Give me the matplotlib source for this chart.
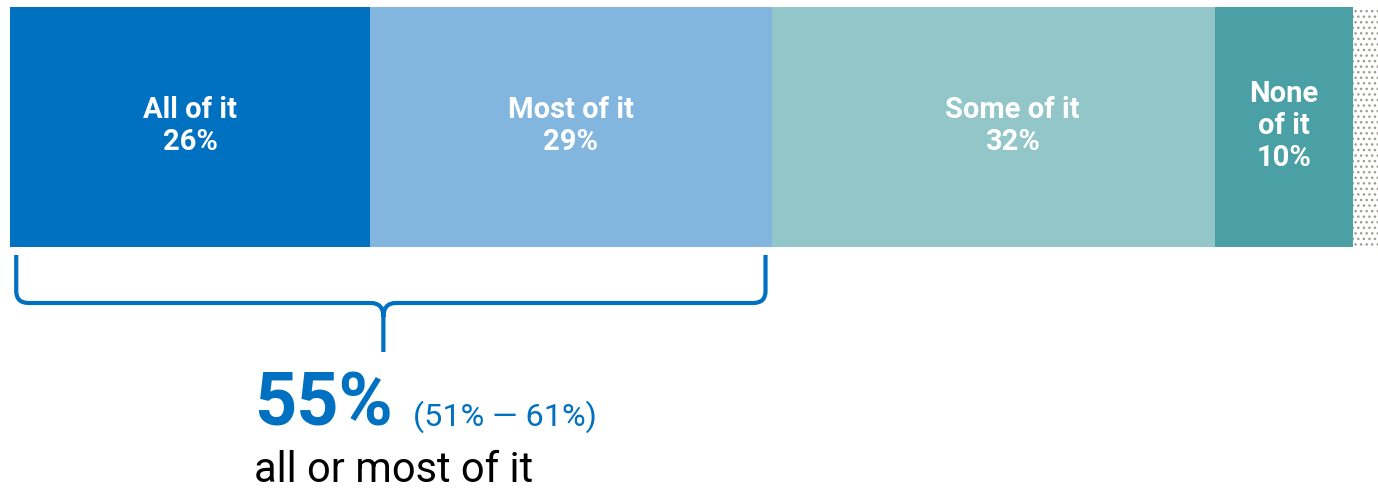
import matplotlib
matplotlib.use("Agg")
import matplotlib.pyplot as plt
from matplotlib.path import Path
from matplotlib.patches import PathPatch

# Share of respondents, left to right; the remainder is "no answer"
categories = ["All of it", "Most of it", "Some of it", "None\nof it"]
shares = [26, 29, 32, 10]
no_answer = 3

combined_value = 55
combined_low, combined_high = 51, 61
combined_label = "all or most of it"

COLORS = ["#0070c0", "#82b6de", "#93c6c8", "#4aa0a5"]
BLUE = "#0070c0"
LABEL_NUDGE = [0, 0, 1.4, 0]   # pct, horizontal shift of in-bar labels

plt.rcParams["font.family"] = ["Roboto", "DejaVu Sans"]

# layout: x axis in percentage points, y axis in pixels from the top
PX_PER_PCT = 13.85
LEFT_PX = 10
W, H = 1378, 488
BAR_TOP, BAR_BOT = 7, 247

fig = plt.figure(figsize=(W / 100, H / 100), dpi=100)
ax = fig.add_axes([0, 0, 1, 1])
ax.set_xlim(-LEFT_PX / PX_PER_PCT, (W - LEFT_PX) / PX_PER_PCT)
ax.set_ylim(H, 0)
ax.axis("off")

# ── stacked bar ─────────────────────────────────────────────────────────
left = 0
for cat, val, col, dx in zip(categories, shares, COLORS, LABEL_NUDGE):
    ax.barh((BAR_TOP + BAR_BOT) / 2, val, left=left, height=BAR_BOT - BAR_TOP,
            color=col, edgecolor="none")
    ax.text(left + val / 2 + dx, (BAR_TOP + BAR_BOT) / 2 - 1, f"{cat}\n{val}%",
            ha="center", va="center", color="white", fontsize=21,
            fontweight="bold", linespacing=1.2)
    left += val

plt.rcParams["hatch.color"] = "#a09a94"
plt.rcParams["hatch.linewidth"] = 1.0
ax.barh((BAR_TOP + BAR_BOT) / 2, no_answer, left=left,
        height=BAR_BOT - BAR_TOP, color="white", hatch="...",
        edgecolor="#a09a94", linewidth=0)

# ── bracket under the first two segments ────────────────────────────────
inset = 0.45
bl = inset
br = shares[0] + shares[1] - inset
bm = bl + 0.49 * (br - bl)
rx = 0.9          # corner radius, pct
top, mid, tip = 255, 303, 352
verts = [
    (bl, top), (bl, mid - 12), (bl, mid), (bl + rx, mid),
    (bm - rx, mid), (bm, mid), (bm, mid + 14), (bm, tip),
    (bm, mid + 14), (bm, mid), (bm + rx, mid),
    (br - rx, mid), (br, mid), (br, mid - 12), (br, top),
]
codes = [Path.MOVETO, Path.LINETO, Path.CURVE3, Path.CURVE3,
         Path.LINETO, Path.CURVE3, Path.CURVE3, Path.LINETO,
         Path.MOVETO, Path.CURVE3, Path.CURVE3,
         Path.LINETO, Path.CURVE3, Path.CURVE3, Path.LINETO]
ax.add_patch(PathPatch(Path(verts, codes), facecolor="none",
                       edgecolor=BLUE, linewidth=3, capstyle="butt"))

# ── combined figure ─────────────────────────────────────────────────────
tx = (254 - LEFT_PX) / PX_PER_PCT
ax.text(tx, 426, f"{combined_value}%", ha="left", va="baseline",
        color=BLUE, fontsize=53, fontweight="bold")
ax.text((413 - LEFT_PX) / PX_PER_PCT, 426,
        f"({combined_low}% \u2014 {combined_high}%)", ha="left",
        va="baseline", color=BLUE, fontsize=23.3)
ax.text(tx, 482, combined_label, ha="left", va="baseline",
        color="black", fontsize=30)

fig.savefig("out.png", dpi=100)
